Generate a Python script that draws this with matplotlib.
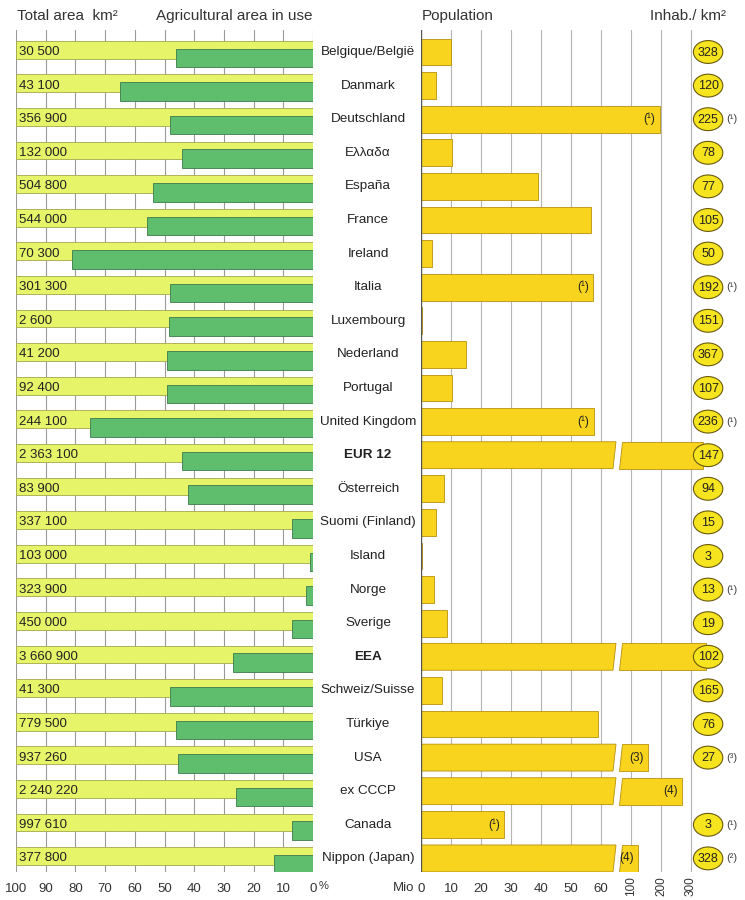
import matplotlib
matplotlib.use("Agg")
import matplotlib.pyplot as plt
from matplotlib.patches import Polygon, Ellipse
from matplotlib.transforms import blended_transform_factory

plt.rcParams['font.family'] = ['Liberation Sans', 'DejaVu Sans']

# data
countries = ["Belgique/België", "Danmark", "Deutschland", "Ελλαδα", "España", "France",
             "Ireland", "Italia", "Luxembourg", "Nederland", "Portugal", "United Kingdom",
             "EUR 12", "Österreich", "Suomi (Finland)", "Island", "Norge", "Sverige", "EEA",
             "Schweiz/Suisse", "Türkiye", "USA", "ex CCCP", "Canada", "Nippon (Japan)"]
bold_rows = ["EUR 12", "EEA"]
total_area = ["30 500", "43 100", "356 900", "132 000", "504 800", "544 000", "70 300",
              "301 300", "2 600", "41 200", "92 400", "244 100", "2 363 100", "83 900",
              "337 100", "103 000", "323 900", "450 000", "3 660 900", "41 300", "779 500",
              "937 260", "2 240 220", "997 610", "377 800"]
agri_pct = [46, 65, 48, 44, 54, 56, 81, 48, 48.5, 49, 49, 75, 44, 42, 7, 1, 2.5, 7, 27,
            48, 46, 45.5, 26, 7, 13]
# bar length on the population scale (Mio); broken bars drawn schematically
population = [10, 5.1, 79.5, 10.2, 39, 56.7, 3.6, 57.3, 0.4, 15, 10.3, 57.5, 94, 7.5,
              5.1, 0.3, 4.3, 8.6, 95, 7, 59, 75.7, 87, 27.6, 72.3]
broken = ["EUR 12", "EEA", "USA", "ex CCCP", "Nippon (Japan)"]
bar_notes = {"Deutschland": "(¹)", "Italia": "(¹)", "United Kingdom": "(¹)", "USA": "(3)",
             "ex CCCP": "(4)", "Canada": "(¹)", "Nippon (Japan)": "(4)"}
density = [328, 120, 225, 78, 77, 105, 50, 192, 151, 367, 107, 236, 147, 94, 15, 3, 13,
           19, 102, 165, 76, 27, None, 3, 328]
density_notes = {"Deutschland": "(¹)", "Italia": "(¹)", "United Kingdom": "(¹)",
                 "Norge": "(¹)", "USA": "(³)", "Canada": "(¹)", "Nippon (Japan)": "(²)"}
pop_ticks = [0, 10, 20, 30, 40, 50, 60]
pop_ticks_broken = ["100", "200", "300"]

YELLOW_GREEN = "#e6f46a"
GREEN = "#5fbd6e"
GOLD = "#f8d41e"
CIRCLE = "#f6e41f"

fig = plt.figure(figsize=(7.45, 9.0), dpi=100)
W, H = 745.0, 900.0
top_px, bot_px = 30, 872
ylim = ((bot_px - 52) / 33.6, (top_px - 52) / 33.6)

# ---------- left panel: area ----------
axL = fig.add_axes([16 / W, 1 - bot_px / H, (313 - 16) / W, (bot_px - top_px) / H])
axL.set_xlim(100, 0)
axL.set_ylim(*ylim)
for s in axL.spines.values():
    s.set_visible(False)
for g in range(0, 101, 10):
    axL.axvline(g, color="#9a9a9a", lw=0.8, zorder=0)
n = len(countries)
for i in range(n):
    axL.barh(i - 0.07, 100, height=0.53, left=0, color=YELLOW_GREEN,
             edgecolor="#a4a84a", lw=0.6, zorder=2)
    axL.barh(i + 0.175, agri_pct[i], height=0.55, left=0, color=GREEN,
             edgecolor="#3d7a4c", lw=0.6, zorder=3)
    axL.text(99, i + 0.0, total_area[i], ha="left", va="center", fontsize=9.5,
             color="#222222", zorder=4)
axL.set_yticks([])
axL.set_xticks(range(0, 101, 10))
axL.tick_params(axis="x", length=0, pad=8, labelsize=9.5, labelcolor="#333333")
trL = blended_transform_factory(axL.transData, fig.transFigure)
axL.text(-3.4, 1 - 886 / H, "%", transform=trL, ha="center", va="center",
         fontsize=8, color="#333333")

# ---------- country labels ----------
lab_tr = blended_transform_factory(fig.transFigure, axL.transData)
for i, c in enumerate(countries):
    fig.text(368 / W, i, c, transform=lab_tr, ha="center", va="center", fontsize=9.7,
             color="#222222", fontweight="bold" if c in bold_rows else "normal")

# ---------- right panel: population + density ----------
axR = fig.add_axes([421 / W, 1 - bot_px / H, (W - 421) / W, (bot_px - top_px) / H])
axR.set_xlim(0, (W - 421) / 3.0)
axR.set_ylim(*ylim)
for s in axR.spines.values():
    s.set_visible(False)
axR.axvline(0, color="#555555", lw=1.0, zorder=5)
for g in range(10, 91, 10):
    axR.axvline(g, color="#b5b5b5", lw=0.8, zorder=0)

h = 0.4
for i, c in enumerate(countries):
    v = population[i]
    if c in broken:
        axR.add_patch(Polygon([(0, i - h), (65, i - h), (64, i + h), (0, i + h)],
                              closed=True, fc=GOLD, ec="#b8900c", lw=0.6, zorder=2))
        axR.add_patch(Polygon([(67, i - h), (v, i - h), (v, i + h), (66, i + h)],
                              closed=True, fc=GOLD, ec="#b8900c", lw=0.6, zorder=2))
    else:
        axR.barh(i, v, height=2 * h, left=0, color=GOLD, edgecolor="#b8900c",
                 lw=0.6, zorder=2)
    if c in bar_notes:
        axR.text(v - 1.3, i, bar_notes[c], ha="right", va="center", fontsize=8.5,
                 color="#222222", zorder=3)
    if density[i] is not None:
        axR.add_patch(Ellipse((95.7, i), 9.8, 0.68, fc=CIRCLE, ec="#6a5a10",
                              lw=0.8, zorder=6))
        axR.text(95.7, i + 0.02, str(density[i]), ha="center", va="center",
                 fontsize=9, color="#222222", zorder=7)
    if c in density_notes:
        axR.text(101.8, i, density_notes[c], ha="left", va="center", fontsize=8,
                 color="#444444", zorder=7)

axR.set_yticks([])
axR.set_xticks(pop_ticks)
axR.tick_params(axis="x", length=0, pad=8, labelsize=9.5, labelcolor="#333333")
trR = blended_transform_factory(axR.transData, fig.transFigure)
for k, lab in enumerate(pop_ticks_broken):
    axR.text(70 + 10 * k, 1 - 876 / H, lab, transform=trR, rotation=90, ha="center",
             va="top", fontsize=8.5, color="#333333")
fig.text(404 / W, 1 - 888 / H, "Mio", ha="center", va="center", fontsize=9.5,
         color="#333333")

# ---------- headers ----------
fig.text(17 / W, 1 - 16 / H, "Total area  km²", ha="left", va="center", fontsize=11,
         color="#333333")
fig.text(313 / W, 1 - 16 / H, "Agricultural area in use", ha="right", va="center",
         fontsize=11, color="#333333")
fig.text(422 / W, 1 - 16 / H, "Population", ha="left", va="center", fontsize=11,
         color="#333333")
fig.text(726 / W, 1 - 16 / H, "Inhab./ km²", ha="right", va="center", fontsize=11,
         color="#333333")

fig.savefig("out.png", dpi=100)
